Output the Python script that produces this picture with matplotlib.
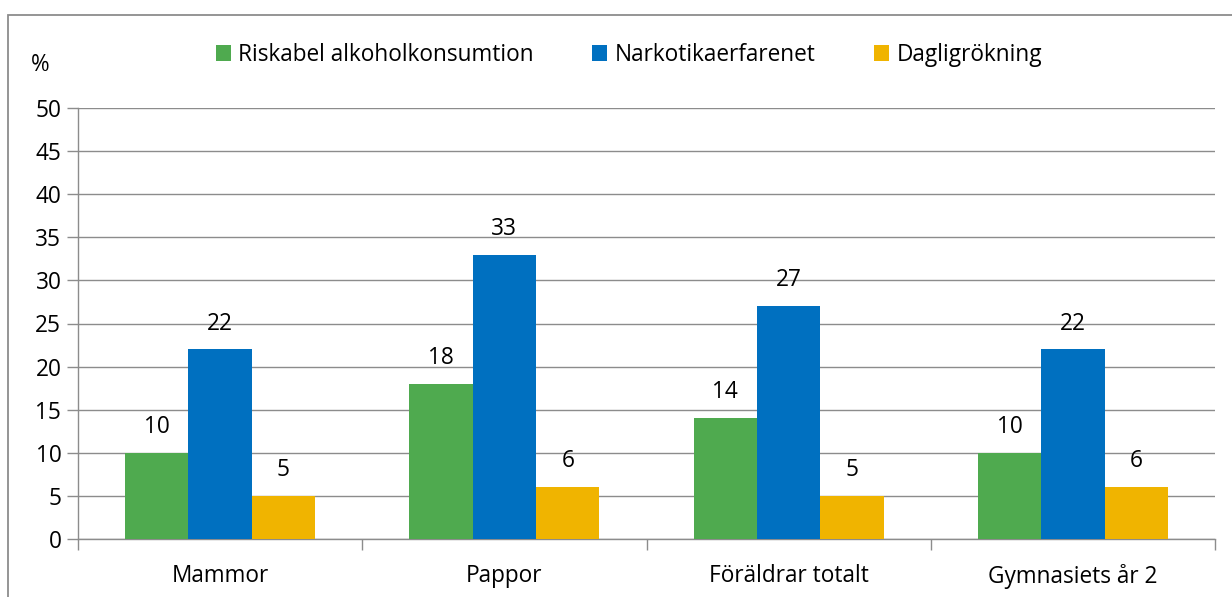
import matplotlib.pyplot as plt
import matplotlib.patches as mpatches
import numpy as np

plt.rcParams["font.family"] = ["Open Sans", "DejaVu Sans"]

categories = ["Mammor", "Pappor", "Föräldrar totalt", "Gymnasiets år 2"]
series_names = ["Riskabel alkoholkonsumtion", "Narkotikaerfarenet", "Dagligrökning"]
alkohol = [10, 18, 14, 10]
narkotika = [22, 33, 27, 22]
rokning = [5, 6, 5, 6]
colors = ["#4faa4f", "#0070c0", "#f0b400"]

fs = 16.3

fig = plt.figure(figsize=(12.32, 5.97), dpi=100)
ax = fig.add_axes([78 / 1232, 58 / 597, 1137 / 1232, 431 / 597])

# figure frame
fig.patches.append(mpatches.Rectangle((8 / 1232, -0.1), 1.2, 1.1 - 15 / 597,
                                      transform=fig.transFigure, fill=False,
                                      edgecolor="#8c8c8c", linewidth=1.3,
                                      clip_on=False))

x = np.arange(len(categories))
w = 0.223
handles = []
for i, (vals, c) in enumerate(zip([alkohol, narkotika, rokning], colors)):
    bars = ax.bar(x + (i - 1) * w, vals, w, color=c, zorder=3)
    handles.append(bars)
    for b, v in zip(bars, vals):
        ax.text(b.get_x() + b.get_width() / 2, v + 3.0, str(v),
                ha="center", va="center", fontsize=fs)

ax.set_xlim(-0.5, len(categories) - 0.5)
ax.set_ylim(0, 50)
ax.set_yticks(range(0, 51, 5))
ax.tick_params(axis="y", labelsize=fs, length=8, color="#8c8c8c", width=1, pad=4)
ax.grid(axis="y", color="#8c8c8c", linewidth=1, zorder=0)
ax.set_xticks(np.arange(-0.5, len(categories), 1.0))
ax.set_xticklabels([])
ax.set_xticks(x, minor=True)
ax.set_xticklabels(categories, minor=True, fontsize=fs, va="center")
ax.tick_params(axis="x", which="major", length=8, color="#8c8c8c", width=1)
ax.tick_params(axis="x", which="minor", length=0, pad=27)
for s in ["top", "right"]:
    ax.spines[s].set_visible(False)
for s in ["left", "bottom"]:
    ax.spines[s].set_color("#8c8c8c")
    ax.spines[s].set_linewidth(1)

fig.text(40 / 1232, 1 - 65 / 597, "%", fontsize=fs, ha="center", va="center")
fig.legend(handles, series_names, loc="center", bbox_to_anchor=(629 / 1232, 1 - 55 / 597),
           ncol=3, frameon=False, fontsize=fs, handlelength=0.66, handleheight=0.66,
           handletextpad=0.32, columnspacing=2.6)

fig.savefig("out.png", dpi=100)
